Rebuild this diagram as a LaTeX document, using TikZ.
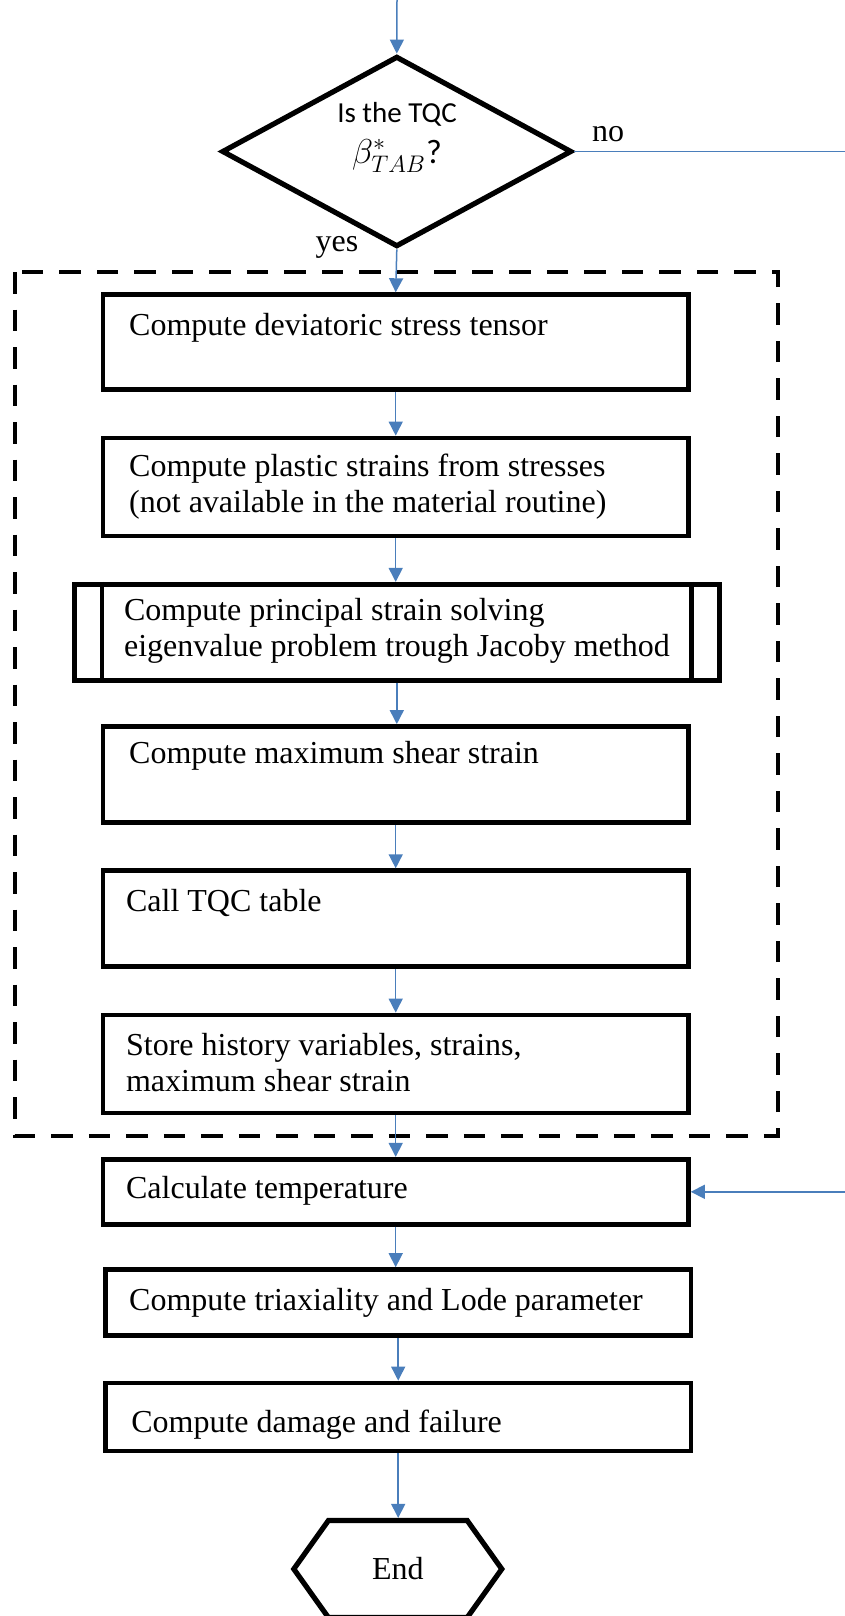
\documentclass[tikz,border=0pt]{standalone}
\usepackage{amsmath}
\usepackage{fontspec}
\setmainfont{Liberation Serif}
\newfontfamily\calfont{Carlito}
\usetikzlibrary{shapes,arrows.meta}
\definecolor{flowblue}{RGB}{74,126,187}

\begin{document}
\begin{tikzpicture}[x=0.5pt,y=-0.5pt,
   every node/.style={font=\fontsize{16}{18}\selectfont},
   box/.style={draw,line width=2.4pt,rectangle,minimum width=292.7pt,inner sep=0pt},
   txt/.style={anchor=west,align=left,inner sep=0pt},
   decision/.style={draw,diamond,line width=2.6pt,minimum width=175pt,minimum height=95.3pt,inner sep=0pt,aspect=1.84},
   endbox/.style={draw,signal,signal to=west and east,signal pointer angle=109,line width=2.6pt,minimum width=104pt,minimum height=48.5pt,inner sep=0pt},
   flow/.style={draw=flowblue,line width=0.75pt,-{Triangle[length=7pt,width=7pt]}},
   group/.style={draw,line width=2pt,dash pattern=on 10.75pt off 8pt}]
\useasboundingbox (0,0) rectangle (845,1616);

\coordinate (start) at (397,0);
\coordinate (rout) at (870,151.5);

\node[decision] (dec) at (396.8,151.5) {};
\node[inner sep=0pt,font=\calfont\fontsize{14.5}{16}\selectfont] (q1) at (397,114) {Is the TQC};
\node[inner sep=0pt,font=\fontsize{17}{18}\selectfont] (q2) at (397,156) {$\beta^{*}_{TAB}${\calfont ?}};
\node[inner sep=0pt] (no) at (608,134) {no};
\node[inner sep=0pt] (yes) at (337,247) {yes};

\draw[group] (15,272) rectangle (778,1135.6);

\node[box,minimum height=47.4pt] (b1) at (395.7,342.1) {};
\node[box,minimum height=49pt] (b2) at (395.7,487) {};
\node[box,minimum width=322.5pt,minimum height=47.9pt] (b3) at (396.8,632.2) {};
\draw[line width=2.4pt] ([xshift=15pt]b3.north west) -- ([xshift=15pt]b3.south west);
\draw[line width=2.4pt] ([xshift=-15pt]b3.north east) -- ([xshift=-15pt]b3.south east);
\node[box,minimum height=48pt] (b4) at (395.7,774.5) {};
\node[box,minimum height=48pt] (b5) at (395.7,918.7) {};
\node[box,minimum height=49pt] (b6) at (395.7,1064) {};
\node[box,minimum height=32.5pt] (b7) at (395.7,1191.8) {};
\node[box,minimum height=33pt] (b8) at (398.2,1302.6) {};
\node[box,minimum height=34pt] (b9) at (398.2,1417) {};
\node[endbox] (fin) at (397.8,1569) {End};

\node[txt] (t1) at (128.8,327.7) {Compute deviatoric stress tensor};
\node[txt] (t2) at (128.8,487) {Compute plastic strains from stresses\\(not available in the material routine)};
\node[txt] (t3) at (123.7,630.7) {Compute principal strain solving\\eigenvalue problem trough Jacoby method};
\node[txt] (t4) at (128.8,755.4) {Compute maximum shear strain};
\node[txt] (t5) at (125.7,902.7) {Call TQC table};
\node[txt] (t6) at (125.7,1063) {Store history variables, strains,\\maximum shear strain};
\node[txt] (t7) at (125.7,1191) {Calculate temperature};
\node[txt] (t8) at (128.8,1302.6) {Compute triaxiality and Lode parameter};
\node[txt] (t9) at (130.9,1425) {Compute damage and failure};

\draw[flow] (start) -- (dec.north);
\draw[flow] (dec.south) -- (b1.north);
\foreach \a/\b in {b1/b2,b2/b3,b3/b4,b4/b5,b5/b6,b6/b7,b7/b8,b8/b9,b9/fin}
  \draw[flow] (\a.south) -- (\a.south |- \b.north);
\draw[flow] (dec.east) -- (rout) |- (b7.east);
\end{tikzpicture}
\end{document}
